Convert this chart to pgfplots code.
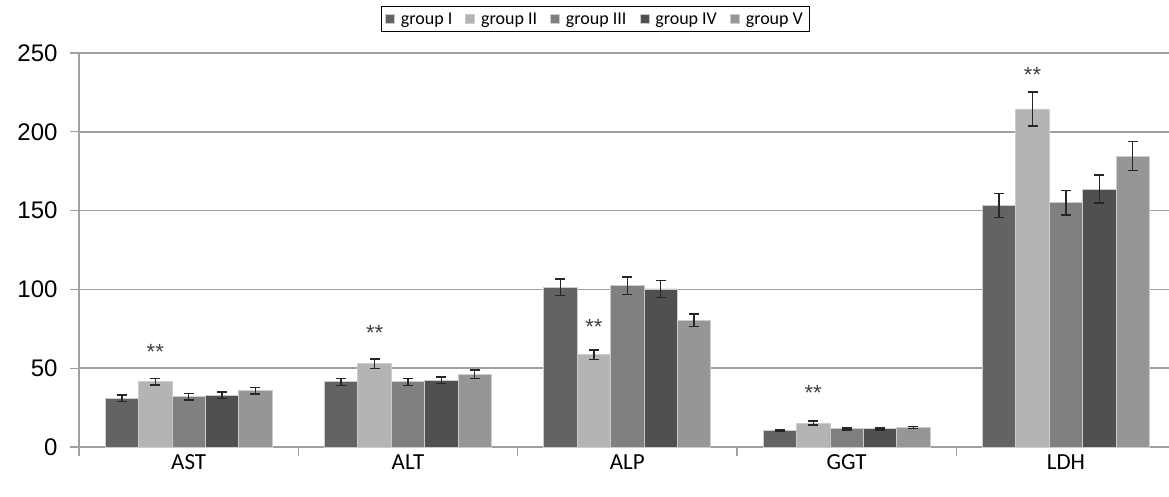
\documentclass[border=0pt]{standalone}
\usepackage{fontspec}
\setmainfont{Carlito}
\newfontfamily\arialf{Liberation Sans}
\usepackage{pgfplots}
\pgfplotsset{compat=1.18}
\definecolor{gI}{RGB}{99,99,99}
\definecolor{gII}{RGB}{180,180,180}
\definecolor{gIII}{RGB}{128,128,128}
\definecolor{gIV}{RGB}{80,80,80}
\definecolor{gV}{RGB}{150,150,150}
\definecolor{axgray}{RGB}{160,160,160}
\pgfplotsset{myerr/.style={error bars/.cd, y dir=both, y explicit,
  error bar style={line width=1.4pt, black!85},
  error mark options={rotate=90, black!85, line width=1.4pt, mark size=5pt}}}
\tikzset{starnode/.style={font=\arialf\fontsize{22}{24}\selectfont, anchor=base, text=black!75}}
\begin{document}
\begin{tikzpicture}
\useasboundingbox (0,0) rectangle (1169pt,496pt);
\begin{axis}[
  at={(79pt,49pt)}, anchor=south west,
  scale only axis, width=1090pt, height=394pt,
  xmin=-0.5, xmax=4.47, ymin=0, ymax=250,
  ybar, bar width=0.1523,
  every axis plot/.append style={legend image code/.code={\fill[##1] (0pt,-4.5pt) rectangle (9pt,4.5pt);}},
  axis x line=bottom, axis y line=left,
  axis line style={-, draw=axgray, line width=1.5pt},
  ytick={0,50,...,250},
  ymajorgrids, grid style={draw=axgray, line width=1.5pt},
  tick align=outside, major tick length=9pt,
  tick style={draw=axgray, line width=1.2pt},
  xtick={-0.5,0.5,1.5,2.5,3.5}, xticklabels={,,,,,},
  extra x ticks={0,1,2,3,4}, extra x tick labels={AST,ALT,ALP,GGT,LDH},
  extra x tick style={major tick length=0pt, grid=none},
  xticklabel style={font=\fontsize{23}{25}\selectfont, yshift=-4pt},
  yticklabel style={font=\arialf\fontsize{24}{26}\selectfont, xshift=-9pt},
  /pgf/number format/assume math mode=true,
  legend columns=5,
  legend style={at={(0.4734,1.0863)}, anchor=center, draw=black, line width=0.8pt,
    font=\fontsize{18}{20}\selectfont, inner xsep=4pt, inner ysep=4pt,
    nodes={inner sep=2pt},
    /tikz/every odd column/.append style={column sep=4pt},
    /tikz/every even column/.append style={column sep=11pt}},
]
\addplot[fill=gI, draw=white!80!black, line width=0.8pt, bar shift=-0.3046, myerr] coordinates {
 (0,31.0) +- (0,2.1) (1,41.4) +- (0,2.2) (2,101.3) +- (0,5.3) (3,10.3) +- (0,0.5) (4,153.2) +- (0,7.7)};
\addplot[fill=gII, draw=white!80!black, line width=0.8pt, bar shift=-0.1523, myerr] coordinates {
 (0,41.4) +- (0,2.0) (1,52.9) +- (0,3.0) (2,58.6) +- (0,3.0) (3,15.2) +- (0,1.2) (4,214.5) +- (0,10.7)};
\addplot[fill=gIII, draw=white!80!black, line width=0.8pt, bar shift=0, myerr] coordinates {
 (0,31.9) +- (0,2.2) (1,41.4) +- (0,2.2) (2,102.3) +- (0,5.5) (3,11.5) +- (0,0.6) (4,155.1) +- (0,7.8)};
\addplot[fill=gIV, draw=white!80!black, line width=0.8pt, bar shift=0.1523, myerr] coordinates {
 (0,32.8) +- (0,2.0) (1,42.3) +- (0,2.1) (2,100.3) +- (0,5.3) (3,11.5) +- (0,0.6) (4,163.7) +- (0,8.8)};
\addplot[fill=gV, draw=white!80!black, line width=0.8pt, bar shift=0.3046, myerr] coordinates {
 (0,35.7) +- (0,2.1) (1,46.1) +- (0,2.8) (2,80.4) +- (0,4.0) (3,12.3) +- (0,0.6) (4,184.6) +- (0,9.2)};
\legend{group I, group II, group III, group IV, group V}
\node[starnode] at (axis cs:-0.1523,55.3) {**};
\node[starnode] at (axis cs:0.8477,67.7) {**};
\node[starnode] at (axis cs:1.8477,71.7) {**};
\node[starnode] at (axis cs:2.8477,29.7) {**};
\node[starnode] at (axis cs:3.8477,231.3) {**};
\end{axis}
\end{tikzpicture}
\end{document}
